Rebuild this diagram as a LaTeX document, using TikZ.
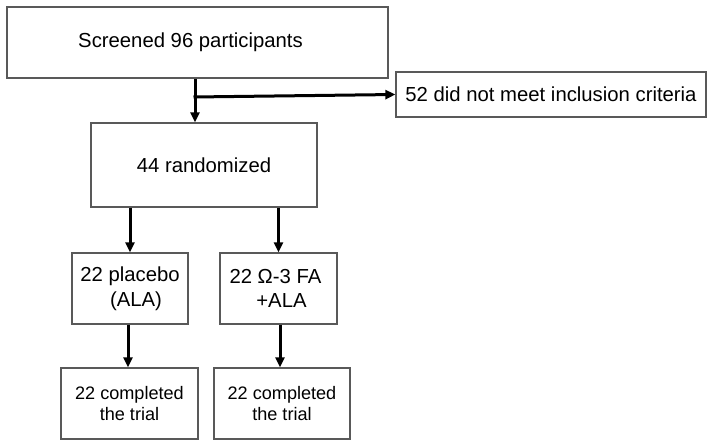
\documentclass[tikz,border=0pt]{standalone}
\usepackage{fontspec}
\setmainfont{Liberation Sans}
\usetikzlibrary{arrows.meta,calc}
\begin{document}
\begin{tikzpicture}[x=1pt,y=-1pt,
  box/.style={draw=black!65,line width=1.2pt,inner sep=0pt,align=center,
    font=\fontsize{20.3}{24.5}\selectfont},
  smallbox/.style={box,font=\fontsize{18.1}{20.8}\selectfont},
  arr/.style={line width=3pt,-{Triangle[length=10pt,width=9pt]}}]
\useasboundingbox (0,0) rectangle (711,447);
\node[box,minimum width=381,minimum height=71] (scr) at (197.5,42.5) {\hspace*{-14pt}Screened 96 participants};
\node[box,minimum width=310,minimum height=45] (exc) at (551,94.5) {52 did not meet inclusion criteria};
\node[box,minimum width=226,minimum height=84] (ran) at (204,165) {44 randomized};
\node[box,minimum width=116,minimum height=71] (pla) at (130,288.5) {22 placebo\\\hspace*{12pt}(ALA)};
\node[box,minimum width=117,minimum height=71] (ome) at (278.5,288.5) {\hspace*{-6pt}22 Ω-3 FA\\\hspace*{6pt}+ALA};
\node[smallbox,minimum width=137,minimum height=71] (cpl) at (129.5,403.5) {22 completed\\the trial};
\node[smallbox,minimum width=136,minimum height=71] (cpo) at (282,403.5) {22 completed\\the trial};
\coordinate (j) at (195,97);
\draw[arr] (scr.south -| j) -- (ran.north -| j);
\draw[arr] ([xshift=-1.5pt]j) -- (exc.west);
\draw[arr] (ran.south -| pla.north) -- (pla.north);
\draw[arr] (ran.south -| ome.north) -- (ome.north);
\draw[arr] ([xshift=-2pt]pla.south) -- ([xshift=-2pt]cpl.north -| pla.south);
\draw[arr] ([xshift=1.5pt]ome.south) -- ([xshift=1.5pt]cpo.north -| ome.south);
\end{tikzpicture}
\end{document}
